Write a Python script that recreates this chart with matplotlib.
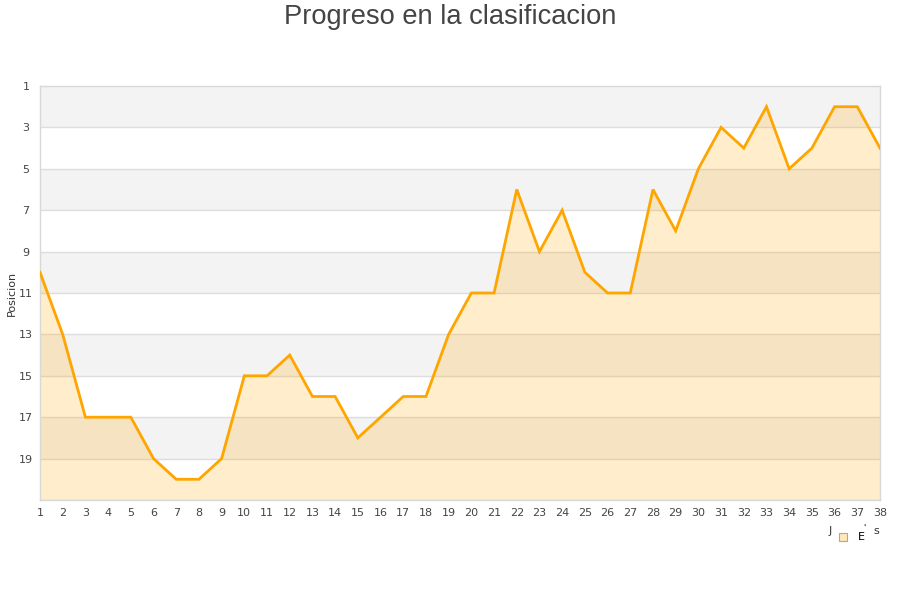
import matplotlib
matplotlib.use("Agg")
import matplotlib.pyplot as plt
from matplotlib.patches import Rectangle

jornadas = list(range(1, 39))
posiciones = [10, 13, 17, 17, 17, 19, 20, 20, 19, 15, 15, 14, 16, 16, 18, 17, 16, 16,
              13, 11, 11, 6, 9, 7, 10, 11, 11, 6, 8, 5, 3, 4, 2, 5, 4, 2, 2, 4]
y_ticks = [1, 3, 5, 7, 9, 11, 13, 15, 17, 19]
title = "Progreso en la clasificacion"
y_label = "Posicion"

fig = plt.figure(figsize=(9, 6), dpi=100)
ax = fig.add_axes([40/900, 1-500/600, 840/900, 414/600])

ax.set_xlim(1, 38)
ax.set_ylim(21, 1)

# alternating bands
for i, lo in enumerate(range(1, 21, 2)):
    if i % 2 == 0:
        ax.axhspan(lo, lo + 2, color="#F3F3F3", zorder=0, lw=0)
for t in y_ticks[1:] + [21]:
    ax.axhline(t, color="#DDDDDD", lw=1, zorder=1)

ax.fill_between(jornadas, posiciones, 21, color="#FFA500", alpha=0.2, lw=0, zorder=2)
ax.plot(jornadas, posiciones, color="#FFA500", lw=2.0, zorder=3, solid_joinstyle="miter")

ax.set_yticks(y_ticks)
ax.set_xticks(jornadas)
ax.tick_params(axis="both", length=0, labelsize=8, colors="#444444")
ax.tick_params(axis="y", pad=10)
ax.tick_params(axis="x", pad=6)
for lbl in ax.get_yticklabels():
    lbl.set_horizontalalignment("center")
for s in ax.spines.values():
    s.set_color("#D8D8D8")
    s.set_linewidth(1)

ax.set_ylabel(y_label, fontsize=8, color="#333333")
ax.yaxis.set_label_coords(-0.028, 0.5)

fig.text(0.5, 0.971, title, ha="center", va="center", fontsize=19.6,
         color="#444444", family="Liberation Sans")

# legend fragment at bottom right
fig.text(830/900, 1-531/600, "J", fontsize=8, color="#333333", ha="center", va="center")
fig.patches.append(Rectangle((839/900, 1-541/600), 8/900, 8/600, transform=fig.transFigure,
                             facecolor="#FFE8C0", edgecolor="#D9A050", lw=0.8))
fig.text(861/900, 1-537/600, "E", fontsize=8, color="#000000", ha="center", va="center")
fig.text(864/900, 1-528/600, "'", fontsize=6, color="#000000", ha="center", va="center")
fig.text(876/900, 1-531/600, "s", fontsize=8, color="#333333", ha="center", va="center")

fig.savefig("out.png", dpi=100, facecolor="white")
